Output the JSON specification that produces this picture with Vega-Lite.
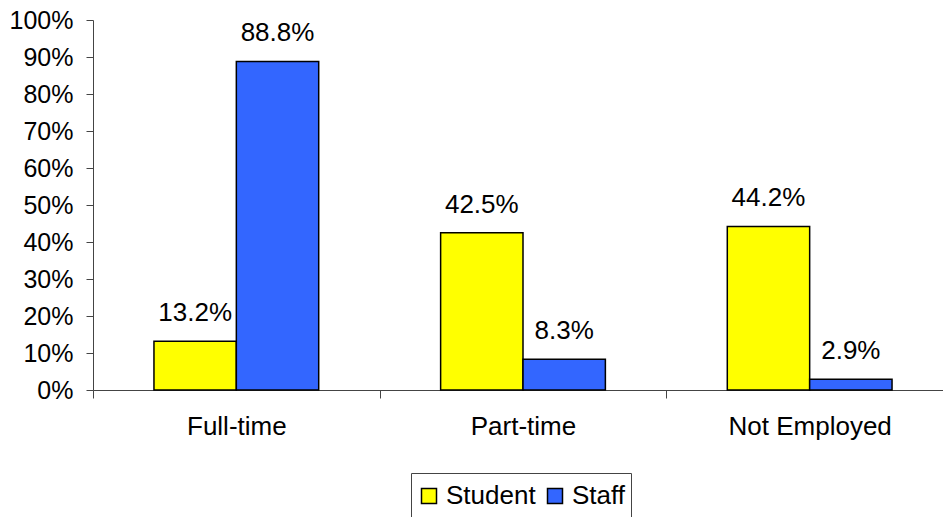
{
  "$schema": "https://vega.github.io/schema/vega-lite/v6.json",
  "width": 860,
  "height": 370,
  "autosize": {"type": "none"},
  "padding": {"left": 93, "top": 20, "right": 0, "bottom": 127},
  "background": "white",
  "config": {
    "view": {"stroke": null},
    "font": "Liberation Sans",
    "axis": {
      "domainColor": "#444444",
      "tickColor": "#444444",
      "domainWidth": 1,
      "tickWidth": 1,
      "tickSize": 7,
      "grid": false,
      "labelColor": "black",
      "labelFont": "Liberation Sans",
      "title": null
    }
  },
  "data": {
    "values": [
      {"status": "Full-time", "group": "Student", "value": 0.132},
      {"status": "Full-time", "group": "Staff", "value": 0.888},
      {"status": "Part-time", "group": "Student", "value": 0.425},
      {"status": "Part-time", "group": "Staff", "value": 0.083},
      {"status": "Not Employed", "group": "Student", "value": 0.442},
      {"status": "Not Employed", "group": "Staff", "value": 0.029}
    ]
  },
  "encoding": {
    "x": {
      "field": "status",
      "type": "nominal",
      "sort": ["Full-time", "Part-time", "Not Employed"],
      "scale": {"paddingInner": 0, "paddingOuter": 0},
      "axis": {
        "labelAngle": 0,
        "labelFontSize": 26,
        "labelPadding": 15,
        "tickSize": 8,
        "tickBand": "extent"
      }
    },
    "xOffset": {
      "field": "group",
      "type": "nominal",
      "sort": ["Student", "Staff"],
      "scale": {"paddingInner": 0, "paddingOuter": 0.74}
    },
    "y": {
      "field": "value",
      "type": "quantitative",
      "scale": {"domain": [0, 1], "nice": false},
      "axis": {
        "values": [0, 0.1, 0.2, 0.3, 0.4, 0.5, 0.6, 0.7, 0.8, 0.9, 1],
        "format": ".0%",
        "labelFontSize": 25,
        "labelPadding": 13
      }
    }
  },
  "layer": [
    {
      "mark": {"type": "bar", "stroke": "black", "strokeWidth": 1.5},
      "encoding": {
        "color": {
          "field": "group",
          "type": "nominal",
          "sort": ["Student", "Staff"],
          "scale": {"domain": ["Student", "Staff"], "range": ["#FFFF00", "#3366FF"]},
          "legend": {
            "orient": "none",
            "legendX": 318,
            "legendY": 453,
            "direction": "horizontal",
            "title": null,
            "symbolType": "square",
            "symbolSize": 225,
            "symbolStrokeColor": "black",
            "symbolStrokeWidth": 1.5,
            "labelFontSize": 26,
            "labelFont": "Liberation Sans",
            "labelColor": "black",
            "labelOffset": 4,
            "columnPadding": 6,
            "clipHeight": 36,
            "strokeColor": "#444444",
            "padding": 5,
            "fillColor": "white"
          }
        }
      }
    },
    {
      "mark": {"type": "text", "baseline": "alphabetic", "dy": -20, "fontSize": 26, "font": "Liberation Sans", "color": "black"},
      "encoding": {
        "text": {"field": "value", "type": "quantitative", "format": ".1%"}
      }
    }
  ]
}
